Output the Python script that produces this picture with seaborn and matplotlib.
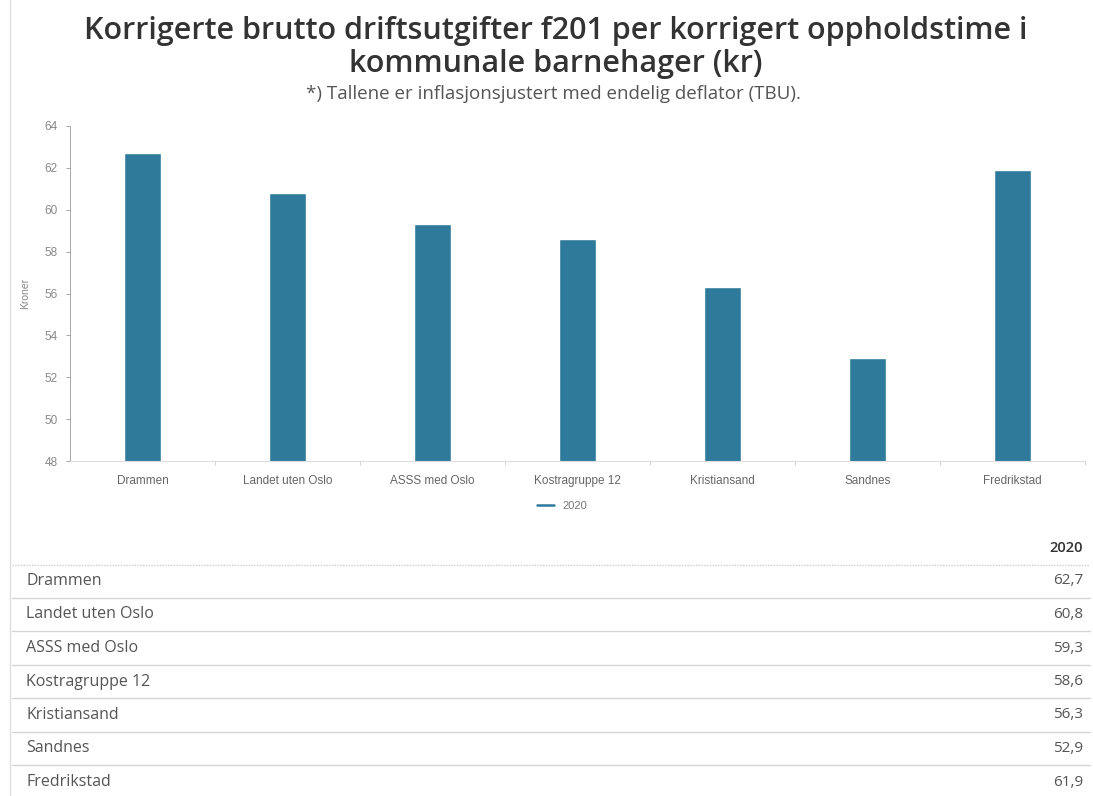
import matplotlib
matplotlib.use("Agg")
import matplotlib.pyplot as plt
import seaborn as sns
import pandas as pd
import numpy as np
from matplotlib.lines import Line2D
from matplotlib.ticker import FixedLocator

categories = ["Drammen", "Landet uten Oslo", "ASSS med Oslo", "Kostragruppe 12",
              "Kristiansand", "Sandnes", "Fredrikstad"]
values_2020 = [62.7, 60.8, 59.3, 58.6, 56.3, 52.9, 61.9]
series_name = "2020"
y_ticks = [48, 50, 52, 54, 56, 58, 60, 62, 64]

title = "Korrigerte brutto driftsutgifter f201 per korrigert oppholdstime i\nkommunale barnehager (kr)"
subtitle = "*) Tallene er inflasjonsjustert med endelig deflator (TBU)."

df = pd.DataFrame({"kategori": categories, "verdi": values_2020})

sns.set_theme(style="white")
plt.rcParams["font.family"] = ["Open Sans", "DejaVu Sans"]

bar_color = "#2f7a9a"
W, H = 1093, 796
fig = plt.figure(figsize=(W / 100, H / 100), dpi=100)
fig.patch.set_facecolor("white")

ax = fig.add_axes([70 / W, 1 - 461 / H, (1085 - 70) / W, (461 - 126) / H])
sns.barplot(data=df, x="kategori", y="verdi", color=bar_color, width=0.26,
            saturation=1, ax=ax)
ax.set_xlim(-0.5, len(categories) - 0.5)
ax.set_ylim(48, 64)
ax.set_yticks(y_ticks)
ax.set_yticklabels([str(t) for t in y_ticks], fontsize=8.5, color="#888888",
                   family=["Liberation Sans", "DejaVu Sans"])
ax.tick_params(axis="y", length=3, width=0.6, color="#999999", pad=6, left=True)
ax.tick_params(axis="x", length=0, labelsize=8.5, labelcolor="#666666", pad=10)
for lbl in ax.get_xticklabels():
    lbl.set_family(["Liberation Sans", "DejaVu Sans"])
ax.xaxis.set_minor_locator(FixedLocator(np.arange(0.5, len(categories) - 0.5 + 1e-6, 1.0)))
ax.tick_params(axis="x", which="minor", length=3, width=0.6, color="#cccccc", bottom=True)
ax.set_xlabel("")
ax.set_ylabel("Kroner", fontsize=7.5, color="#888888", labelpad=10,
              family=["Liberation Sans", "DejaVu Sans"])
for s in ["top", "right"]:
    ax.spines[s].set_visible(False)
ax.spines["left"].set_color("#999999")
ax.spines["left"].set_linewidth(0.6)
ax.spines["bottom"].set_color("#dddddd")
ax.spines["bottom"].set_linewidth(0.8)

# legend
handle = Line2D([0], [0], color=bar_color, lw=1.8)
fig.legend([handle], [series_name], loc="center", bbox_to_anchor=(562 / W, 1 - 506 / H),
           frameon=False, handlelength=1.5, labelcolor="#777777",
           prop={"family": ["Liberation Sans", "DejaVu Sans"], "size": 8})

# titles
fig.text(556 / W, 1 - 31 / H, title.split("\n")[0], ha="center", va="center", fontsize=22,
         fontweight="semibold", color="#333333")
fig.text(556 / W, 1 - 64 / H, title.split("\n")[1], ha="center", va="center", fontsize=22,
         fontweight="semibold", color="#333333")
fig.text(553 / W, 1 - 94 / H, subtitle, ha="center", va="center", fontsize=13.5,
         color="#555555")

# left border line
fig.add_artist(Line2D([10 / W, 10 / W], [0, 1], color="#dddddd", lw=1.0))

# table
x0, x1 = 12 / W, 1090 / W
fig.text(1083 / W, 1 - 548 / H, series_name, ha="right", va="center", fontsize=10.5,
         fontweight="semibold", color="#333333")
fig.add_artist(Line2D([x0, x1], [1 - 565 / H] * 2, color="#cccccc", lw=1.0, ls=(0, (1, 1))))
row_h = 33.5
for i, (c, v) in enumerate(zip(categories, values_2020)):
    yc = 581 + i * row_h
    fig.text(26 / W, 1 - yc / H, c, ha="left", va="center", fontsize=11.5, color="#555555")
    fig.text(1083 / W, 1 - yc / H, f"{v:.1f}".replace(".", ","), ha="right", va="center",
             fontsize=11, color="#555555")
    if i < len(categories) - 1:
        yl = yc + row_h / 2
        fig.add_artist(Line2D([x0, x1], [1 - yl / H] * 2, color="#d5d5d5", lw=1.0))

fig.savefig("out.png", dpi=100, facecolor="white")
